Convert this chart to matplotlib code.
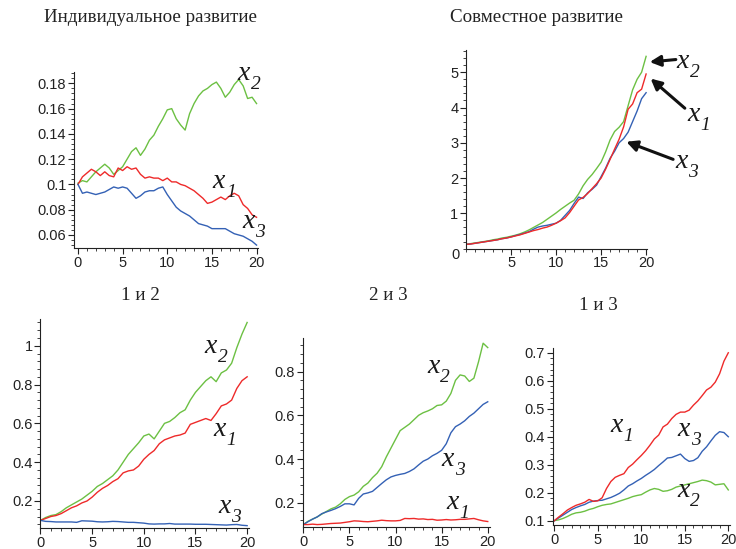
import numpy as np
import matplotlib
matplotlib.use("Agg")
import matplotlib.pyplot as plt
from matplotlib.ticker import MultipleLocator, AutoMinorLocator

plt.rcParams['font.family'] = ['Liberation Sans', 'DejaVu Sans']

# time grid, step 0.5
t = np.linspace(0, 20, 41)

# --- Индивидуальное развитие ---
ind_x1 = [0.100, 0.106, 0.109, 0.112, 0.110, 0.107, 0.110, 0.107, 0.106, 0.113,
          0.111, 0.114, 0.112, 0.113, 0.108, 0.105, 0.106, 0.105, 0.105, 0.103,
          0.105, 0.102, 0.102, 0.100, 0.099, 0.097, 0.095, 0.092, 0.089, 0.085,
          0.086, 0.088, 0.090, 0.088, 0.091, 0.093, 0.091, 0.084, 0.081, 0.076, 0.074]
ind_x2 = [0.101, 0.103, 0.102, 0.106, 0.110, 0.113, 0.116, 0.113, 0.108, 0.111,
          0.114, 0.120, 0.126, 0.129, 0.123, 0.128, 0.135, 0.139, 0.146, 0.152,
          0.159, 0.160, 0.152, 0.147, 0.143, 0.156, 0.164, 0.170, 0.174, 0.176,
          0.179, 0.181, 0.176, 0.169, 0.173, 0.179, 0.183, 0.178, 0.168, 0.169, 0.164]
ind_x3 = [0.100, 0.093, 0.094, 0.093, 0.092, 0.093, 0.094, 0.096, 0.098, 0.097,
          0.098, 0.097, 0.093, 0.089, 0.091, 0.094, 0.095, 0.095, 0.097, 0.098,
          0.092, 0.087, 0.082, 0.079, 0.077, 0.075, 0.072, 0.069, 0.068, 0.067,
          0.065, 0.065, 0.065, 0.065, 0.063, 0.061, 0.060, 0.059, 0.057, 0.055, 0.052]

# --- Совместное развитие ---
sov_x1 = [0.12, 0.13, 0.15, 0.17, 0.19, 0.21, 0.23, 0.25, 0.28, 0.30,
          0.33, 0.36, 0.39, 0.43, 0.47, 0.51, 0.54, 0.58, 0.61, 0.66,
          0.72, 0.79, 0.87, 1.02, 1.20, 1.38, 1.45, 1.56, 1.70, 1.84,
          2.00, 2.25, 2.53, 2.82, 3.10, 3.45, 3.95, 4.10, 4.42, 4.52, 4.95]
sov_x2 = [0.12, 0.14, 0.16, 0.18, 0.20, 0.22, 0.25, 0.27, 0.30, 0.32,
          0.35, 0.38, 0.42, 0.47, 0.53, 0.60, 0.67, 0.74, 0.83, 0.92,
          1.01, 1.11, 1.20, 1.29, 1.37, 1.55, 1.78, 1.96, 2.10, 2.27,
          2.45, 2.74, 3.08, 3.32, 3.44, 3.60, 4.05, 4.50, 4.80, 5.00, 5.45]
sov_x3 = [0.12, 0.13, 0.15, 0.17, 0.19, 0.21, 0.23, 0.25, 0.28, 0.30,
          0.33, 0.37, 0.40, 0.44, 0.48, 0.55, 0.61, 0.64, 0.66, 0.69,
          0.72, 0.80, 0.94, 1.08, 1.28, 1.46, 1.42, 1.58, 1.68, 1.80,
          2.04, 2.28, 2.56, 2.76, 3.00, 3.12, 3.30, 3.60, 3.90, 4.25, 4.42]

# --- 1 и 2 ---
p12_x1 = [0.100, 0.110, 0.120, 0.125, 0.135, 0.150, 0.165, 0.175, 0.190, 0.200,
          0.220, 0.245, 0.265, 0.280, 0.300, 0.315, 0.345, 0.355, 0.360, 0.380,
          0.415, 0.440, 0.460, 0.495, 0.515, 0.525, 0.535, 0.540, 0.550, 0.595,
          0.605, 0.615, 0.625, 0.615, 0.650, 0.690, 0.700, 0.720, 0.780, 0.820, 0.840]
p12_x2 = [0.100, 0.115, 0.125, 0.130, 0.145, 0.165, 0.180, 0.195, 0.210, 0.230,
          0.250, 0.275, 0.290, 0.310, 0.330, 0.360, 0.400, 0.440, 0.470, 0.500,
          0.535, 0.545, 0.520, 0.560, 0.600, 0.610, 0.630, 0.655, 0.670, 0.720,
          0.760, 0.790, 0.820, 0.840, 0.815, 0.860, 0.875, 0.910, 0.990, 1.060, 1.120]
p12_x3 = [0.100, 0.095, 0.094, 0.092, 0.092, 0.092, 0.092, 0.090, 0.098, 0.097,
          0.096, 0.093, 0.092, 0.093, 0.095, 0.094, 0.092, 0.090, 0.090, 0.088,
          0.086, 0.082, 0.081, 0.082, 0.082, 0.084, 0.081, 0.081, 0.081, 0.081,
          0.080, 0.080, 0.080, 0.079, 0.078, 0.077, 0.076, 0.078, 0.079, 0.075, 0.073]

# --- 2 и 3 ---
p23_x1 = [0.100, 0.100, 0.102, 0.100, 0.101, 0.103, 0.105, 0.106, 0.107, 0.110,
          0.113, 0.117, 0.116, 0.114, 0.113, 0.115, 0.117, 0.120, 0.118, 0.117,
          0.117, 0.119, 0.128, 0.127, 0.128, 0.125, 0.126, 0.123, 0.124, 0.120,
          0.121, 0.123, 0.121, 0.122, 0.124, 0.124, 0.126, 0.128, 0.122, 0.117, 0.114]
p23_x2 = [0.100, 0.115, 0.125, 0.135, 0.148, 0.160, 0.172, 0.180, 0.195, 0.215,
          0.228, 0.235, 0.250, 0.275, 0.290, 0.315, 0.335, 0.365, 0.410, 0.450,
          0.490, 0.530, 0.545, 0.560, 0.580, 0.600, 0.612, 0.620, 0.630, 0.645,
          0.648, 0.665, 0.700, 0.760, 0.785, 0.780, 0.755, 0.770, 0.845, 0.930, 0.910]
p23_x3 = [0.100, 0.113, 0.125, 0.135, 0.150, 0.158, 0.165, 0.173, 0.183, 0.195,
          0.195, 0.190, 0.220, 0.240, 0.245, 0.252, 0.270, 0.288, 0.305, 0.318,
          0.325, 0.330, 0.334, 0.343, 0.355, 0.373, 0.390, 0.400, 0.415, 0.426,
          0.440, 0.470, 0.520, 0.548, 0.560, 0.575, 0.595, 0.610, 0.630, 0.650, 0.662]

# --- 1 и 3 ---
p13_x1 = [0.100, 0.113, 0.125, 0.138, 0.147, 0.155, 0.160, 0.166, 0.176, 0.169,
          0.171, 0.182, 0.215, 0.240, 0.255, 0.262, 0.268, 0.290, 0.302, 0.318,
          0.333, 0.350, 0.370, 0.392, 0.406, 0.435, 0.445, 0.465, 0.480, 0.488,
          0.488, 0.495, 0.513, 0.528, 0.547, 0.567, 0.577, 0.595, 0.625, 0.670, 0.700]
p13_x2 = [0.100, 0.103, 0.108, 0.115, 0.123, 0.128, 0.130, 0.134, 0.140, 0.144,
          0.150, 0.155, 0.158, 0.160, 0.165, 0.170, 0.175, 0.180, 0.186, 0.190,
          0.193, 0.202, 0.210, 0.215, 0.212, 0.205, 0.207, 0.212, 0.220, 0.224,
          0.228, 0.232, 0.236, 0.240, 0.245, 0.243, 0.238, 0.228, 0.230, 0.232, 0.210]
p13_x3 = [0.100, 0.110, 0.120, 0.130, 0.140, 0.147, 0.153, 0.158, 0.166, 0.170,
          0.172, 0.173, 0.178, 0.183, 0.190, 0.198, 0.210, 0.224, 0.232, 0.242,
          0.251, 0.262, 0.272, 0.283, 0.297, 0.310, 0.324, 0.326, 0.332, 0.338,
          0.322, 0.312, 0.315, 0.325, 0.348, 0.364, 0.385, 0.405, 0.418, 0.415, 0.400]

RED = '#ee2a2a'
GREEN = '#6cc043'
BLUE = '#3461b5'
SERIF = ['Liberation Serif', 'DejaVu Serif']

fig = plt.figure(figsize=(7.36, 5.49), dpi=100)


def setup(ax, xlim, ylim, ymajor, yminor_div, xticks):
    ax.set_xlim(*xlim)
    ax.set_ylim(*ylim)
    for s in ['top', 'right']:
        ax.spines[s].set_visible(False)
    ax.spines['left'].set_color('#222222')
    ax.spines['bottom'].set_color('#222222')
    ax.set_xticks(xticks)
    ax.xaxis.set_minor_locator(MultipleLocator(1))
    ax.yaxis.set_major_locator(MultipleLocator(ymajor))
    ax.yaxis.set_minor_locator(AutoMinorLocator(yminor_div))
    ax.tick_params(which='major', direction='out', length=4, width=0.8,
                   labelsize=10.5, colors='#222222', pad=1.5)
    ax.tick_params(which='minor', direction='out', length=2, width=0.6,
                   colors='#222222')


def lab(ax, x, y, i):
    # italic x with an italic subscript digit
    ax.text(x, y, 'x', fontsize=20, family=SERIF, style='italic',
            ha='left', va='baseline', color='#1a1a1a')
    ax.annotate(str(i), xy=(x, y), xytext=(9.5, -6.5), textcoords='offset points',
                fontsize=14, family=SERIF, style='italic',
                ha='left', va='baseline', color='#1a1a1a',
                annotation_clip=False)


# top-left
ax1 = fig.add_axes([0.1005, 0.5483, 0.2505, 0.3206])
ax1.plot(t, ind_x2, color=GREEN, lw=1)
ax1.plot(t, ind_x1, color=RED, lw=1)
ax1.plot(t, ind_x3, color=BLUE, lw=1)
setup(ax1, (-0.45, 20.2), (0.0497, 0.189), 0.02, 5, [0, 5, 10, 15, 20])
ax1.set_yticklabels([f'{v:g}' for v in ax1.get_yticks()])
lab(ax1, 17.9, 0.183, 2)
lab(ax1, 15.1, 0.0975, 1)
lab(ax1, 18.4, 0.0655, 3)

# top-right
ax2 = fig.add_axes([0.6332, 0.5472, 0.2465, 0.3617])
ax2.plot(t, sov_x2, color=GREEN, lw=1)
ax2.plot(t, sov_x3, color=BLUE, lw=1)
ax2.plot(t, sov_x1, color=RED, lw=1)
setup(ax2, (0, 20.15), (0, 5.63), 1, 5, [5, 10, 15, 20])
ax2.set_yticks([1, 2, 3, 4, 5])
fig.text(456 / 736, 1 - 255 / 549, '0', fontsize=10.5, ha='center',
         va='center', color='#222222')
lab(ax2, 23.4, 5.12, 2)
lab(ax2, 24.6, 3.62, 1)
lab(ax2, 23.2, 2.28, 3)
arr = dict(arrowstyle='-|>', lw=2.2, color='#111111', mutation_scale=16,
           shrinkA=0, shrinkB=0)
ax2.annotate('', xy=(20.4, 5.29), xytext=(23.3, 5.36), arrowprops=arr,
             annotation_clip=False)
ax2.annotate('', xy=(20.5, 4.82), xytext=(24.3, 3.98), arrowprops=arr,
             annotation_clip=False)
ax2.annotate('', xy=(17.8, 3.03), xytext=(23.0, 2.53), arrowprops=arr,
             annotation_clip=False)

# bottom-left
ax3 = fig.add_axes([0.055, 0.0383, 0.2836, 0.3807])
ax3.plot(t, p12_x2, color=GREEN, lw=1)
ax3.plot(t, p12_x1, color=RED, lw=1)
ax3.plot(t, p12_x3, color=BLUE, lw=1)
setup(ax3, (0, 20.2), (0.061, 1.138), 0.2, 5, [0, 5, 10, 15, 20])
ax3.set_yticklabels([f'{v:g}' for v in ax3.get_yticks()])
lab(ax3, 15.9, 0.965, 2)
lab(ax3, 16.7, 0.533, 1)
lab(ax3, 17.2, 0.14, 3)

# bottom-middle
ax4 = fig.add_axes([0.4113, 0.0401, 0.2539, 0.3443])
ax4.plot(t, p23_x2, color=GREEN, lw=1)
ax4.plot(t, p23_x3, color=BLUE, lw=1)
ax4.plot(t, p23_x1, color=RED, lw=1)
setup(ax4, (-0.07, 20.2), (0.089, 0.954), 0.2, 5, [0, 5, 10, 15, 20])
ax4.set_yticklabels([f'{v:g}' for v in ax4.get_yticks()])
lab(ax4, 13.4, 0.795, 2)
lab(ax4, 15.0, 0.367, 3)
lab(ax4, 15.5, 0.17, 1)

# bottom-right
ax5 = fig.add_axes([0.751, 0.0437, 0.2409, 0.3224])
ax5.plot(t, p13_x2, color=GREEN, lw=1)
ax5.plot(t, p13_x3, color=BLUE, lw=1)
ax5.plot(t, p13_x1, color=RED, lw=1)
setup(ax5, (-0.18, 20.2), (0.0846, 0.717), 0.1, 5, [0, 5, 10, 15, 20])
ax5.set_yticklabels([f'{v:g}' for v in ax5.get_yticks()])
lab(ax5, 6.4, 0.416, 1)
lab(ax5, 14.2, 0.402, 3)
lab(ax5, 14.1, 0.186, 2)

# titles
tkw = dict(family=SERIF, fontsize=13.7, ha='center', va='center',
           color='#222222')
fig.text(150 / 736, 1 - 18 / 549, 'Индивидуальное развитие', **tkw)
fig.text(537 / 736, 1 - 18 / 549, 'Совместное развитие', **tkw)
fig.text(140 / 736, 1 - 295 / 549, '1 и 2', **tkw)
fig.text(388 / 736, 1 - 296 / 549, '2 и 3', **tkw)
fig.text(598 / 736, 1 - 305 / 549, '1 и 3', **tkw)

fig.savefig('out.png', dpi=100)
